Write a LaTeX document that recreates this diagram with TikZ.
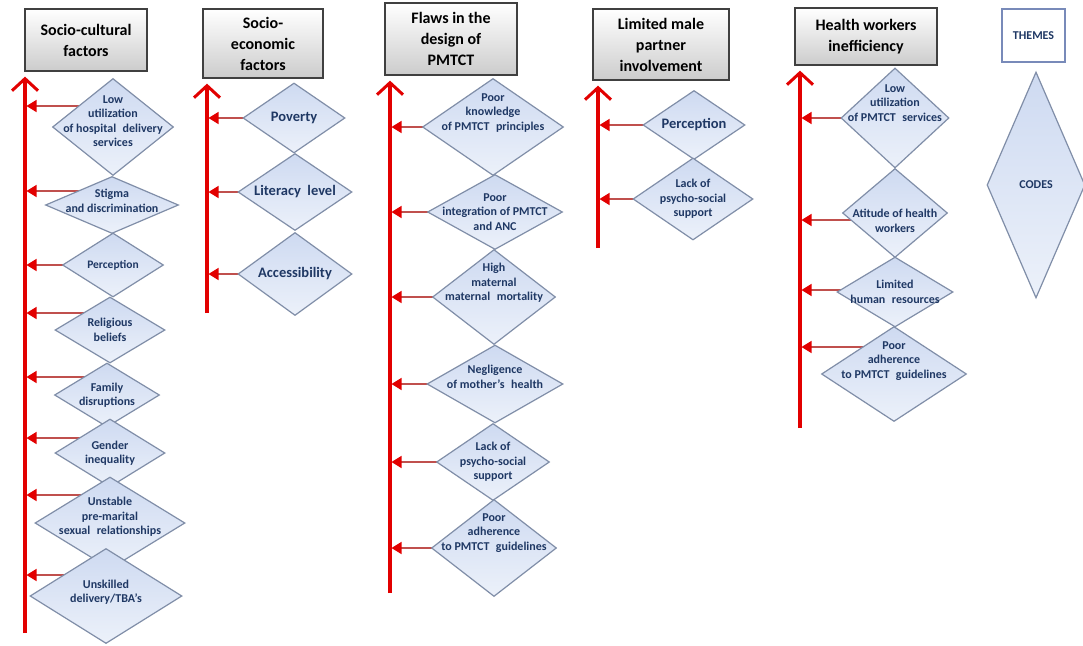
\documentclass[tikz,border=0pt]{standalone}
\usepackage{fontspec}
\setmainfont{Carlito}
\usetikzlibrary{shapes.geometric,arrows.meta}
\pgfdeclarelayer{back}
\pgfdeclarelayer{bg}
\pgfsetlayers{back,bg,main}
\definecolor{mainred}{RGB}{226,0,0}
\definecolor{branchred}{RGB}{192,80,77}
\definecolor{codetext}{RGB}{31,56,100}
\definecolor{codefillA}{RGB}{206,218,241}
\definecolor{codefillB}{RGB}{236,241,250}
\definecolor{codeline}{RGB}{128,142,168}
\definecolor{headline}{RGB}{64,64,64}
\definecolor{legline}{RGB}{120,138,185}
\newcommand{\dsp}{\hspace{6.5pt}}
\begin{document}
\begin{tikzpicture}[x=1pt,y=-1pt,
  themebox/.style 2 args={draw=headline, line width=1.3pt, top color=white, bottom color=black!20,
     minimum width=#1pt, minimum height=#2pt, inner sep=0pt},
  themetxt/.style={align=center, text=black, font=\fontsize{16}{21}\selectfont\bfseries},
  codebox/.style 2 args={diamond, draw=codeline, line width=1.2pt, top color=codefillA, bottom color=codefillB,
     minimum width=#1pt, minimum height=#2pt, inner sep=0pt},
  codetxt/.style={align=center, text=codetext, inner sep=0pt, font=\fontsize{12}{14.5}\selectfont\bfseries},
  bigtxt/.style={codetxt, font=\fontsize{14.5}{16}\selectfont\bfseries},
  mainline/.style={draw=mainred, line width=3.2pt, -{Straight Barb[length=12pt,width=26pt,line width=3pt]}, shorten >=5pt},
  branch/.style={draw=branchred, line width=1.4pt, -{Triangle[length=10pt,width=12pt,fill=mainred,color=mainred]}, shorten >=1.5pt}
]
\begin{pgfonlayer}{back}
\fill[white] (0,0) rectangle (1083,645);
\end{pgfonlayer}
\useasboundingbox (0,0) rectangle (1083,645);

% ---------------- Column 1 ----------------
\node[themebox={122}{62}] (h1) at (86,40) {};
\node[themetxt] (ht1) at (h1) {Socio-cultural\\factors};
\coordinate (b1) at (25,633);
\node[codebox={121}{97}] (d11) at (113,127) {};
\node[codetxt] (t11) at ([yshift=6pt]d11.center) {Low\\utilization\\of hospital\dsp delivery\\services};
\node[codebox={133}{57}] (d12) at (112,205) {};
\node[codetxt] (t12) at ([yshift=4pt]d12.center) {Stigma\\and discrimination};
\node[codebox={101}{64}] (d13) at (113,265) {};
\node[codetxt, font=\fontsize{11.5}{14}\selectfont\bfseries] (t13) at (d13) {Perception};
\node[codebox={110}{66}] (d14) at (110,330) {};
\node[codetxt] (t14) at (d14) {Religious\\beliefs};
\node[codebox={105}{64}] (d15) at (107,395) {};
\node[codetxt] (t15) at (d15) {Family\\disruptions};
\node[codebox={110}{68}] (d16) at (110,453) {};
\node[codetxt] (t16) at (d16) {Gender\\inequality};
\node[codebox={150}{92}] (d17) at (110,523) {};
\node[codetxt] (t17) at ([yshift=6pt]d17.center) {Unstable\\pre-marital\\sexual\dsp relationships};
\node[codebox={152}{95}] (d18) at (106,596) {};
\node[codetxt] (t18) at ([yshift=4pt]d18.center) {Unskilled\\delivery/TBA's};
\draw[mainline] (b1) -- (b1 |- h1.south);
\begin{pgfonlayer}{bg}
\draw[branch] ([yshift=21pt]d11.center) -- ([yshift=21pt]d11.center -| b1);
\draw[branch] ([yshift=14pt]d12.center) -- ([yshift=14pt]d12.center -| b1);
\draw[branch] (d13.center) -- (d13.center -| b1);
\draw[branch] ([yshift=17pt]d14.center) -- ([yshift=17pt]d14.center -| b1);
\draw[branch] ([yshift=18pt]d15.center) -- ([yshift=18pt]d15.center -| b1);
\draw[branch] ([yshift=15pt]d16.center) -- ([yshift=15pt]d16.center -| b1);
\draw[branch] ([yshift=28pt]d17.center) -- ([yshift=28pt]d17.center -| b1);
\draw[branch] ([yshift=21pt]d18.center) -- ([yshift=21pt]d18.center -| b1);
\end{pgfonlayer}

% ---------------- Column 2 ----------------
\node[themebox={120}{69}] (h2) at (263,43.5) {};
\node[themetxt] (ht2) at (h2) {Socio-\\economic\\factors};
\coordinate (b2) at (207,313);
\node[codebox={102}{70}] (d21) at (294,118) {};
\node[bigtxt] (t21) at (d21) {Poverty};
\node[codebox={114}{77}] (d22) at (295,192) {};
\node[bigtxt] (t22) at (d22) {Literacy\dsp level};
\node[codebox={114}{83}] (d23) at (295,274) {};
\node[bigtxt] (t23) at (d23) {Accessibility};
\draw[mainline] (b2) -- (b2 |- h2.south);
\begin{pgfonlayer}{bg}
\draw[branch] (d21.center) -- (d21.center -| b2);
\draw[branch] (d22.center) -- (d22.center -| b2);
\draw[branch] (d23.center) -- (d23.center -| b2);
\end{pgfonlayer}

% ---------------- Column 3 ----------------
\node[themebox={132}{72}] (h3) at (451,39) {};
\node[themetxt] (ht3) at (h3) {Flaws in the\\design of\\PMTCT};
\coordinate (b3) at (390,593);
\node[codebox={141}{97}] (d31) at (493,127) {};
\node[codetxt] (t31) at ([yshift=14pt]d31.center) {Poor\\knowledge\\of PMTCT\dsp principles};
\node[codebox={135}{75}] (d32) at (495,212) {};
\node[codetxt] (t32) at (d32) {Poor\\integration of PMTCT\\and ANC};
\node[codebox={123}{95}] (d33) at (494,297) {};
\node[codetxt] (t33) at ([yshift=14pt]d33.center) {High\\maternal\\maternal\dsp mortality};
\node[codebox={136}{78}] (d34) at (495,384) {};
\node[codetxt] (t34) at ([yshift=7pt]d34.center) {Negligence\\of mother's\dsp health};
\node[codebox={113}{77}] (d35) at (493,462) {};
\node[codetxt] (t35) at (d35) {Lack of\\psycho-social\\support};
\node[codebox={125}{97}] (d36) at (494,548) {};
\node[codetxt] (t36) at ([yshift=15pt]d36.center) {Poor\\adherence\\to PMTCT\dsp guidelines};
\draw[mainline] (b3) -- (b3 |- h3.south);
\begin{pgfonlayer}{bg}
\draw[branch] (d31.center) -- (d31.center -| b3);
\draw[branch] (d32.center) -- (d32.center -| b3);
\draw[branch] (d33.center) -- (d33.center -| b3);
\draw[branch] (d34.center) -- (d34.center -| b3);
\draw[branch] (d35.center) -- (d35.center -| b3);
\draw[branch] (d36.center) -- (d36.center -| b3);
\end{pgfonlayer}

% ---------------- Column 4 ----------------
\node[themebox={136}{71}] (h4) at (661,44.5) {};
\node[themetxt] (ht4) at (h4) {Limited male\\partner\\involvement};
\coordinate (b4) at (598,248);
\node[codebox={102}{69}] (d41) at (694,125) {};
\node[bigtxt] (t41) at (d41) {Perception};
\node[codebox={120}{82}] (d42) at (693,199) {};
\node[codetxt] (t42) at (d42) {Lack of\\psycho-social\\support};
\draw[mainline] (b4) -- (b4 |- h4.south);
\begin{pgfonlayer}{bg}
\draw[branch] (d41.center) -- (d41.center -| b4);
\draw[branch] (d42.center) -- (d42.center -| b4);
\end{pgfonlayer}

% ---------------- Column 5 ----------------
\node[themebox={142}{57}] (h5) at (866,36.5) {};
\node[themetxt] (ht5) at (h5) {Health workers\\inefficiency};
\coordinate (b5) at (800,428);
\node[codebox={108}{100}] (d51) at (895,118) {};
\node[codetxt] (t51) at ([yshift=15pt]d51.center) {Low\\utilization\\of PMTCT\dsp services};
\node[codebox={105}{89}] (d52) at (895,213) {};
\node[codetxt] (t52) at ([yshift=-8pt]d52.center) {Atitude of health\\workers};
\node[codebox={116}{70}] (d53) at (895,292) {};
\node[codetxt] (t53) at (d53) {Limited\\human\dsp resources};
\node[codebox={145}{95}] (d54) at (894,374) {};
\node[codetxt] (t54) at ([yshift=13pt]d54.center) {Poor\\adherence\\to PMTCT\dsp guidelines};
\draw[mainline] (b5) -- (b5 |- h5.south);
\begin{pgfonlayer}{bg}
\draw[branch] (d51.center) -- (d51.center -| b5);
\draw[branch] ([yshift=-7pt]d52.center) -- ([yshift=-7pt]d52.center -| b5);
\draw[branch] ([yshift=2pt]d53.center) -- ([yshift=2pt]d53.center -| b5);
\draw[branch] ([yshift=27pt]d54.center) -- ([yshift=27pt]d54.center -| b5);
\end{pgfonlayer}

% ---------------- Legend ----------------
\node[draw=legline, line width=1.8pt, fill=white, minimum width=63pt, minimum height=53pt, inner sep=0pt] (lgt) at (1033.5,35.5) {};
\node[codetxt, font=\fontsize{12}{14}\selectfont\bfseries] (lgtt) at (lgt) {THEMES};
\node[codebox={98}{226}] (lgc) at (1036,185) {};
\node[codetxt, font=\fontsize{12}{14}\selectfont\bfseries] (lgct) at (lgc) {CODES};
\end{tikzpicture}
\end{document}
